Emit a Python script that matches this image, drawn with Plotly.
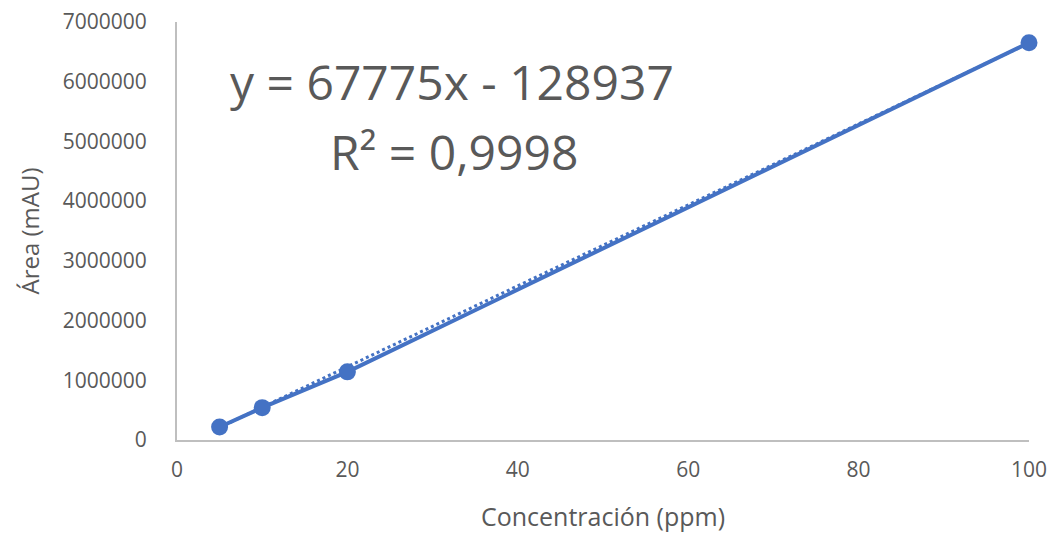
import plotly.graph_objects as go

concentracion = [5, 10, 20, 100]
area = [218000, 542000, 1141000, 6653000]
slope = 67775
intercept = -128937
r2_text = "0,9998"
x_ticks = [0, 20, 40, 60, 80, 100]
y_ticks = [0, 1000000, 2000000, 3000000, 4000000, 5000000, 6000000, 7000000]

blue = "#4472C4"
gray_text = "#595959"
axis_gray = "#BFBFBF"
font_family = "Open Sans, Segoe UI, sans-serif"

trend_x = [min(concentracion), max(concentracion)]
trend_y = [slope * x + intercept for x in trend_x]

fig = go.Figure()
fig.add_trace(go.Scatter(x=trend_x, y=trend_y, mode="lines",
                         line=dict(color=blue, width=3, dash="dot"),
                         showlegend=False, hoverinfo="skip"))
fig.add_trace(go.Scatter(x=concentracion, y=area, mode="lines+markers",
                         line=dict(color=blue, width=4),
                         marker=dict(color=blue, size=17),
                         showlegend=False, cliponaxis=False))

fig.add_annotation(xref="paper", yref="paper", x=0.323, y=0.857,
                   text=f"y = {slope}x - {abs(intercept)}", showarrow=False,
                   font=dict(family=font_family, size=48, color=gray_text),
                   xanchor="center", yanchor="middle")
fig.add_annotation(xref="paper", yref="paper", x=0.325, y=0.689,
                   text=f"R² = {r2_text}", showarrow=False,
                   font=dict(family=font_family, size=48, color=gray_text),
                   xanchor="center", yanchor="middle")

# page body has an 8px margin; figure is sized to sit inside the window
fig.update_layout(
    width=1042, height=525,
    margin=dict(l=169, r=21, t=14, b=93),
    paper_bgcolor="white", plot_bgcolor="white",
    font=dict(family=font_family, color=gray_text),
)
fig.update_xaxes(range=[0, 100], tickvals=x_ticks, showgrid=False, zeroline=False,
                 showline=True, linecolor=axis_gray, linewidth=2, automargin=False,
                 ticklabeloverflow="allow",
                 tickfont=dict(size=21, color=gray_text), ticklabelstandoff=10,
                 title=dict(text="Concentración (ppm)", font=dict(size=25, color=gray_text), standoff=30))
fig.update_yaxes(range=[0, 7000000], tickvals=y_ticks, tickformat="d", showgrid=False, zeroline=False,
                 showline=True, linecolor=axis_gray, linewidth=2, automargin=False,
                 ticklabeloverflow="allow",
                 tickfont=dict(size=21, color=gray_text), ticklabelstandoff=24,
                 title=dict(text="Área (mAU)", font=dict(size=24, color=gray_text), standoff=16))

fig.write_html("out.html")
